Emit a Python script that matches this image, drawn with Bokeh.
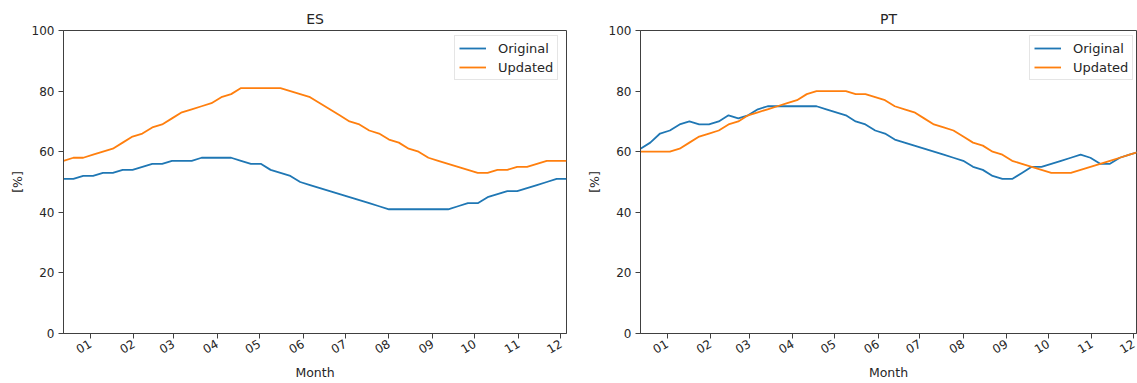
import math

import pandas as pd
from bokeh.embed import file_html
from bokeh.layouts import row
from bokeh.models import (ColumnDataSource, DatetimeTickFormatter, FixedTicker,
                          Legend, LegendItem, Range1d)
from bokeh.plotting import figure
from bokeh.resources import INLINE

# ---- data -----------------------------------------------------------------
# weekly samples, one value per week
weeks = pd.date_range("2020-12-13", periods=52, freq="7D")
month_starts = pd.date_range("2021-01-01", periods=12, freq="MS")

es_original = [51, 51, 52, 52, 53, 53, 54, 54, 55, 56, 56, 57, 57, 57, 58, 58,
               58, 58, 57, 56, 56, 54, 53, 52, 50, 49, 48, 47, 46, 45, 44, 43,
               42, 41, 41, 41, 41, 41, 41, 41, 42, 43, 43, 45, 46, 47, 47, 48,
               49, 50, 51, 51]
es_updated = [57, 58, 58, 59, 60, 61, 63, 65, 66, 68, 69, 71, 73, 74, 75, 76,
              78, 79, 81, 81, 81, 81, 81, 80, 79, 78, 76, 74, 72, 70, 69, 67,
              66, 64, 63, 61, 60, 58, 57, 56, 55, 54, 53, 53, 54, 54, 55, 55,
              56, 57, 57, 57]
pt_original = [61, 63, 66, 67, 69, 70, 69, 69, 70, 72, 71, 72, 74, 75, 75, 75,
               75, 75, 75, 74, 73, 72, 70, 69, 67, 66, 64, 63, 62, 61, 60, 59,
               58, 57, 55, 54, 52, 51, 51, 53, 55, 55, 56, 57, 58, 59, 58, 56,
               56, 58, 59, 60]
pt_updated = [60, 60, 60, 60, 61, 63, 65, 66, 67, 69, 70, 72, 73, 74, 75, 76,
              77, 79, 80, 80, 80, 80, 79, 79, 78, 77, 75, 74, 73, 71, 69, 68,
              67, 65, 63, 62, 60, 59, 57, 56, 55, 54, 53, 53, 53, 54, 55, 56,
              57, 58, 59, 60]

y_ticks = [0, 20, 40, 60, 80, 100]
series_names = ["Original", "Updated"]
series_colors = ["#1f77b4", "#ff7f0e"]

FONT = "DejaVu Sans"
INK = "#262626"
SPINE = "#404040"


def make_panel(title, original, updated, x_end, left_border, right_border,
               frame_w, legend_inset):
    src = ColumnDataSource(dict(week=weeks, original=original, updated=updated))
    p = figure(
        title=title,
        x_axis_type="datetime",
        x_range=Range1d(weeks[0], x_end),
        y_range=Range1d(0, 100),
        frame_width=frame_w,
        frame_height=303,
        min_border_left=left_border,
        min_border_right=right_border,
        min_border_top=30,
        min_border_bottom=50,
        output_backend="svg",
        toolbar_location=None,
        background_fill_color="white",
        border_fill_color="white",
    )
    p.grid.visible = False
    p.outline_line_color = SPINE
    p.outline_line_width = 1

    p.title.align = "center"
    p.title.text_font = FONT
    p.title.text_font_size = "14px"
    p.title.text_font_style = "normal"
    p.title.text_color = INK
    p.title.standoff = 7

    xa = p.xaxis[0]
    xa.ticker = FixedTicker(
        ticks=[ts.timestamp() * 1000 for ts in month_starts])
    fmt = "%m"
    xa.formatter = DatetimeTickFormatter(
        microseconds=fmt, milliseconds=fmt, seconds=fmt, minsec=fmt,
        minutes=fmt, hourmin=fmt, hours=fmt, days=fmt, months=fmt, years=fmt)
    xa.major_label_orientation = math.pi / 6
    xa.axis_label = "Month"

    ya = p.yaxis[0]
    ya.ticker = FixedTicker(ticks=y_ticks)
    ya.axis_label = "[%]"

    for ax in (xa, ya):
        ax.axis_line_color = SPINE
        ax.major_tick_line_color = SPINE
        ax.major_tick_out = 5
        ax.major_tick_in = 0
        ax.minor_tick_line_color = None
        ax.major_label_text_font = FONT
        ax.major_label_text_font_size = "12px"
        ax.major_label_text_color = INK
        ax.major_label_standoff = 4
        ax.axis_label_text_font = FONT
        ax.axis_label_text_font_size = "12.5px"
        ax.axis_label_text_font_style = "normal"
        ax.axis_label_text_color = INK
        ax.axis_label_standoff = 4

    r1 = p.line("week", "original", source=src, color=series_colors[0],
                line_width=1.8)
    r2 = p.line("week", "updated", source=src, color=series_colors[1],
                line_width=1.8)

    # legend anchored by its lower-left corner, in frame pixels
    legend = Legend(
        items=[LegendItem(label=series_names[0], renderers=[r1]),
               LegendItem(label=series_names[1], renderers=[r2])],
        location=(frame_w - legend_inset, 253),
        margin=0,
        padding=4,
        spacing=3,
        glyph_width=27,
        glyph_height=16,
        label_height=16,
        label_standoff=12,
        label_text_font=FONT,
        label_text_font_size="13px",
        label_text_color=INK,
        border_line_color="#cccccc",
        border_line_width=1,
        background_fill_color="white",
        background_fill_alpha=0.8,
    )
    p.add_layout(legend, "center")
    return p


p_es = make_panel("ES", es_original, es_updated, weeks[-1], 63, 10, 503, 112)
p_pt = make_panel("PT", pt_original, pt_updated, pd.Timestamp("2021-12-03"),
                  64, 1, 496, 107)

layout = row(p_es, p_pt)
open("out.html", "w").write(file_html(layout, INLINE))
